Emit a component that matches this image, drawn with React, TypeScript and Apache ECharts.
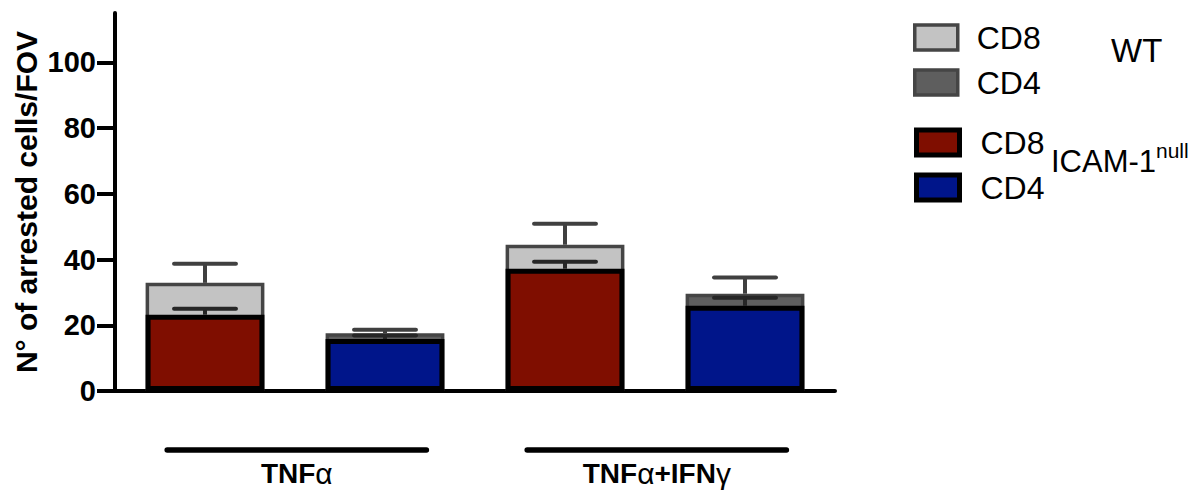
import React, { useEffect, useRef } from "react";
import * as echarts from "echarts";

const categories = ["TNFα CD8", "TNFα CD4", "TNFα+IFNγ CD8", "TNFα+IFNγ CD4"];
const cellTypes = ["CD8", "CD4", "CD8", "CD4"];
const wtMeans = [32.9, 17.6, 44.5, 29.6];
const wtSem = [5.8, 1.0, 6.4, 4.9];
const icamMeans = [23.2, 15.8, 37.2, 25.9];
const icamSem = [1.8, 1.1, 2.1, 2.5];
const groupLabels = ["TNFα", "TNFα+IFNγ"];
const groupStart = [0, 2];
const groupEnd = [1, 3];
const yTickMax = 100;
const yAxisMax = 115;
const yInterval = 20;

const FONT = "'Liberation Sans', Arial, Helvetica, sans-serif";

const colors: Record<string, { fill: string; border: string; bw: number }> = {
  "WT CD8": { fill: "#c3c3c3", border: "#454545", bw: 3.5 },
  "WT CD4": { fill: "#5e5e5e", border: "#454545", bw: 3.5 },
  "ICAM CD8": { fill: "#7f0e00", border: "#000000", bw: 5 },
  "ICAM CD4": { fill: "#00158a", border: "#000000", bw: 5 },
};

function pick(values: number[], type: string) {
  return values.map((v, i) => (cellTypes[i] === type ? v : "-"));
}

function barSeries(name: string, values: number[], type: string, z: number) {
  const c = colors[name];
  return {
    type: "bar",
    name,
    z,
    xAxisIndex: 0,
    yAxisIndex: 0,
    barWidth: "66%",
    barGap: "-100%",
    data: pick(values, type),
    itemStyle: { color: c.fill, borderColor: c.border, borderWidth: c.bw },
    emphasis: { disabled: true },
  };
}

function errSeries(means: number[], sems: number[], color: string, z: number) {
  return {
    type: "custom",
    z,
    xAxisIndex: 0,
    yAxisIndex: 0,
    clip: false,
    silent: true,
    data: means.map((m, i) => [i, m, sems[i]]),
    renderItem: (params: any, api: any) => {
      const i = api.value(0);
      const m = api.value(1);
      const s = api.value(2);
      const base = api.coord([i, m]);
      const top = api.coord([i, m + s]);
      const half = api.size([1, 0])[0] * 0.172;
      const style = { stroke: color, lineWidth: 4 };
      return {
        type: "group",
        children: [
          { type: "line", shape: { x1: base[0], y1: base[1], x2: top[0], y2: top[1] }, style },
          { type: "line", shape: { x1: top[0] - half, y1: top[1], x2: top[0] + half, y2: top[1] }, style: { ...style, lineCap: "round" } },
        ],
      };
    },
  };
}

function legendItem(name: string) {
  const c = colors[name];
  return { name, itemStyle: { color: c.fill, borderColor: c.border, borderWidth: c.bw } };
}

export default function App() {
  const ref = useRef<HTMLDivElement>(null);
  useEffect(() => {
    if (!ref.current) return;
    const chart = echarts.init(ref.current, undefined, { renderer: "svg" });
    const gridTop = 13;
    const gridBottom = 103;
    const gridH = 494 - gridTop - gridBottom;
    const top1 = gridTop + (gridH * (yAxisMax - yTickMax)) / yAxisMax;
    const option: any = {
      animation: false,
      textStyle: { fontFamily: FONT },
      grid: [
        { left: 115, right: 367, top: gridTop, bottom: gridBottom },
        { left: 115, right: 367, top: top1, bottom: gridBottom },
      ],
      xAxis: [
        {
          type: "category",
          gridIndex: 0,
          data: categories,
          axisLine: { lineStyle: { color: "#000", width: 4 } },
          axisTick: { alignWithLabel: true, length: 15, lineStyle: { color: "#000", width: 4 } },
          axisLabel: { show: false },
          splitLine: { show: false },
        },
        { type: "value", gridIndex: 1, min: 0, max: 1, show: false },
      ],
      yAxis: [
        {
          type: "value",
          gridIndex: 0,
          min: 0,
          max: yAxisMax,
          axisLine: { show: true, lineStyle: { color: "#000", width: 4 } },
          axisTick: { show: false },
          axisLabel: { show: false },
          splitLine: { show: false },
          name: "N° of arrested cells/FOV",
          nameLocation: "middle",
          nameGap: 74,
          nameTextStyle: { fontSize: 30, fontWeight: "bold", color: "#000", fontFamily: FONT },
        },
        {
          type: "value",
          gridIndex: 1,
          min: 0,
          max: yTickMax,
          interval: yInterval,
          axisLine: { show: false },
          axisTick: { show: true, length: 18, lineStyle: { color: "#000", width: 4 } },
          axisLabel: { margin: 19, fontSize: 29, fontWeight: "bold", color: "#000", fontFamily: FONT },
          splitLine: { show: false },
        },
      ],
      legend: [
        {
          orient: "vertical",
          left: 913,
          top: 21.5,
          padding: 0,
          itemWidth: 43,
          itemHeight: 25,
          itemGap: 13,
          icon: "rect",
          selectedMode: false,
          data: [legendItem("WT CD8"), legendItem("WT CD4")],
          formatter: (n: string) => n.split(" ")[1],
          textStyle: { fontSize: 32, color: "#000", fontFamily: FONT, padding: [0, 0, 0, 14] },
        },
        {
          orient: "vertical",
          left: 914,
          top: 126.5,
          padding: 0,
          itemWidth: 43,
          itemHeight: 25,
          itemGap: 13,
          icon: "rect",
          selectedMode: false,
          data: [legendItem("ICAM CD8"), legendItem("ICAM CD4")],
          formatter: (n: string) => n.split(" ")[1],
          textStyle: { fontSize: 32, color: "#000", fontFamily: FONT, padding: [0, 0, 0, 16] },
        },
      ],
      graphic: [
        {
          type: "text",
          left: 1111,
          top: 34,
          style: { text: "WT", font: `33px ${FONT}`, fill: "#000" },
        },
        {
          type: "text",
          left: 1051,
          top: 146,
          style: { text: "ICAM-1", font: `31px ${FONT}`, fill: "#000" },
        },
        {
          type: "text",
          left: 1156,
          top: 140,
          style: { text: "null", font: `21px ${FONT}`, fill: "#000" },
        },
      ],
      series: [
        barSeries("WT CD8", wtMeans, "CD8", 2),
        barSeries("WT CD4", wtMeans, "CD4", 2),
        errSeries(wtMeans, wtSem, "#404040", 3),
        barSeries("ICAM CD8", icamMeans, "CD8", 4),
        barSeries("ICAM CD4", icamMeans, "CD4", 4),
        errSeries(icamMeans, icamSem, "#262626", 5),
        {
          type: "custom",
          z: 5,
          xAxisIndex: 0,
          yAxisIndex: 0,
          clip: false,
          silent: true,
          data: groupLabels.map((g, i) => [groupStart[i], groupEnd[i], g]),
          renderItem: (params: any, api: any) => {
            const idx = params.dataIndex;
            const p0 = api.coord([api.value(0), 0]);
            const p1 = api.coord([api.value(1), 0]);
            const band = api.size([1, 0])[0];
            const y = p0[1] + 59;
            const x1 = p0[0] - band * 0.21;
            const x2 = p1[0] + band * 0.23;
            const label = groupLabels[idx];
            const rich = label.replace(/([αγ])/g, "}{g|$1}{b|");
            return {
              type: "group",
              children: [
                {
                  type: "line",
                  shape: { x1, y1: y, x2, y2: y },
                  style: { stroke: "#000", lineWidth: 5.5, lineCap: "round" },
                },
                {
                  type: "text",
                  x: (x1 + x2) / 2,
                  y: y + 23,
                  style: {
                    text: `{b|${rich}}`,
                    align: "center",
                    verticalAlign: "middle",
                    textAlign: "center",
                    textVerticalAlign: "middle",
                    rich: {
                      b: { fontSize: 28, fontWeight: "bold", fontFamily: FONT, fill: "#000", color: "#000" },
                      g: { fontSize: 30, fontWeight: "normal", fontFamily: FONT, fill: "#000", color: "#000" },
                    },
                  },
                },
              ],
            };
          },
        },
      ],
    };
    chart.setOption(option);
    return () => chart.dispose();
  }, []);
  return <div ref={ref} style={{ position: "absolute", left: 0, top: 0, width: 1202, height: 494 }} />;
}
